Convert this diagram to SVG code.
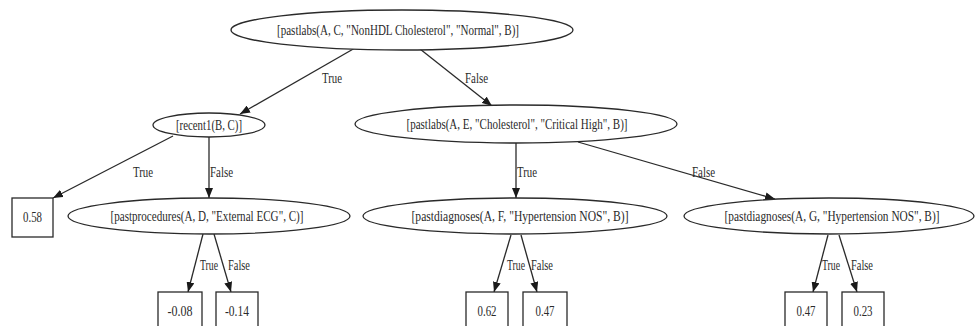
<svg xmlns="http://www.w3.org/2000/svg" width="977" height="326" viewBox="0 0 977 326">
  <style>
    .node ellipse, .node rect { fill: #ffffff; stroke: #2a2a2a; stroke-width: 1.3; }
    .node text { font-family: "Liberation Serif", "Times New Roman", serif; font-size: 14px; fill: #2a2a2a; text-anchor: middle; }
    .edge line { stroke: #2a2a2a; stroke-width: 1.3; marker-end: url(#arrow); }
    .edge text { font-family: "Liberation Serif", "Times New Roman", serif; font-size: 14px; fill: #2a2a2a; }
  </style>
  <defs>
    <marker id="arrow" markerUnits="userSpaceOnUse" markerWidth="10" markerHeight="8" refX="10" refY="4" orient="auto">
      <path d="M0,0 L10,4 L0,8 z" fill="#1a1a1a"/>
    </marker>
  </defs>
  <rect width="977" height="326" fill="#ffffff"/>

  <!-- connectors -->
  <g id="edges" class="edge">
    <line x1="355" y1="48" x2="240" y2="114"/>
    <text x="322" y="83" textLength="20" lengthAdjust="spacingAndGlyphs">True</text>
    <line x1="420" y1="49" x2="492" y2="106"/>
    <text x="465" y="83" textLength="23" lengthAdjust="spacingAndGlyphs">False</text>

    <line x1="173" y1="136" x2="53" y2="198"/>
    <text x="133" y="177" textLength="20" lengthAdjust="spacingAndGlyphs">True</text>
    <line x1="209" y1="137" x2="209" y2="198"/>
    <text x="210" y="177" textLength="23" lengthAdjust="spacingAndGlyphs">False</text>

    <line x1="516" y1="143" x2="516" y2="198"/>
    <text x="517" y="177" textLength="20" lengthAdjust="spacingAndGlyphs">True</text>
    <line x1="578" y1="142" x2="775" y2="199"/>
    <text x="692" y="177" textLength="23" lengthAdjust="spacingAndGlyphs">False</text>

    <line x1="203" y1="234" x2="188" y2="292"/>
    <text x="200" y="270" textLength="18" lengthAdjust="spacingAndGlyphs">True</text>
    <line x1="214" y1="234" x2="231" y2="292"/>
    <text x="228" y="270" textLength="22" lengthAdjust="spacingAndGlyphs">False</text>

    <line x1="511" y1="235" x2="494" y2="292"/>
    <text x="507" y="270" textLength="18" lengthAdjust="spacingAndGlyphs">True</text>
    <line x1="521" y1="235" x2="537" y2="292"/>
    <text x="531" y="270" textLength="22" lengthAdjust="spacingAndGlyphs">False</text>

    <line x1="828" y1="235" x2="813" y2="292"/>
    <text x="822" y="270" textLength="18" lengthAdjust="spacingAndGlyphs">True</text>
    <line x1="839" y1="235" x2="857" y2="292"/>
    <text x="851" y="270" textLength="22" lengthAdjust="spacingAndGlyphs">False</text>
  </g>

  <!-- decision nodes -->
  <g id="n0" class="node">
    <ellipse cx="402" cy="30" rx="171" ry="20"/>
    <text x="398" y="35" textLength="242" lengthAdjust="spacingAndGlyphs">[pastlabs(A, C, "NonHDL Cholesterol", "Normal", B)]</text>
  </g>
  <g id="n1" class="node">
    <ellipse cx="209" cy="125" rx="56" ry="12"/>
    <text x="209" y="130" textLength="66" lengthAdjust="spacingAndGlyphs">[recent1(B, C)]</text>
  </g>
  <g id="n2" class="node">
    <ellipse cx="516" cy="124" rx="161" ry="19"/>
    <text x="517" y="129" textLength="221" lengthAdjust="spacingAndGlyphs">[pastlabs(A, E, "Cholesterol", "Critical High", B)]</text>
  </g>
  <g id="n3" class="node">
    <ellipse cx="209" cy="216" rx="141" ry="18"/>
    <text x="207" y="221" textLength="193" lengthAdjust="spacingAndGlyphs">[pastprocedures(A, D, "External ECG", C)]</text>
  </g>
  <g id="n4" class="node">
    <ellipse cx="515" cy="216" rx="152" ry="18"/>
    <text x="520" y="221" textLength="217" lengthAdjust="spacingAndGlyphs">[pastdiagnoses(A, F, "Hypertension NOS", B)]</text>
  </g>
  <g id="n5" class="node">
    <ellipse cx="829" cy="216" rx="145" ry="18"/>
    <text x="832" y="221" textLength="215" lengthAdjust="spacingAndGlyphs">[pastdiagnoses(A, G, "Hypertension NOS", B)]</text>
  </g>

  <!-- leaf values -->
  <g id="leaf058" class="node">
    <rect x="12" y="198" width="41" height="39"/>
    <text x="32.5" y="222" textLength="19" lengthAdjust="spacingAndGlyphs">0.58</text>
  </g>
  <g id="leaf_m008" class="node">
    <rect x="158" y="292" width="44" height="40"/>
    <text x="180" y="316" textLength="25" lengthAdjust="spacingAndGlyphs">-0.08</text>
  </g>
  <g id="leaf_m014" class="node">
    <rect x="216" y="292" width="42" height="40"/>
    <text x="237" y="316" textLength="24" lengthAdjust="spacingAndGlyphs">-0.14</text>
  </g>
  <g id="leaf062" class="node">
    <rect x="466" y="292" width="42" height="40"/>
    <text x="487" y="316" textLength="19" lengthAdjust="spacingAndGlyphs">0.62</text>
  </g>
  <g id="leaf047a" class="node">
    <rect x="523" y="292" width="44" height="40"/>
    <text x="545" y="316" textLength="19" lengthAdjust="spacingAndGlyphs">0.47</text>
  </g>
  <g id="leaf047b" class="node">
    <rect x="785" y="292" width="42" height="40"/>
    <text x="806" y="316" textLength="19" lengthAdjust="spacingAndGlyphs">0.47</text>
  </g>
  <g id="leaf023" class="node">
    <rect x="842" y="292" width="42" height="40"/>
    <text x="863" y="316" textLength="19" lengthAdjust="spacingAndGlyphs">0.23</text>
  </g>
</svg>
